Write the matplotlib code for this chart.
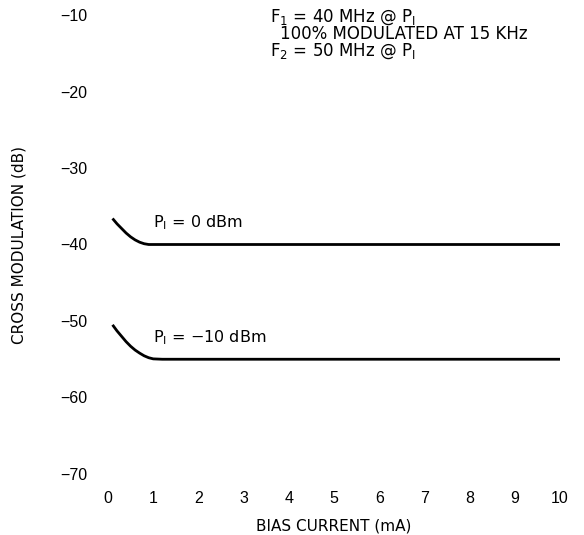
import matplotlib.pyplot as plt

plt.rcParams['font.family'] = ['DejaVu Sans']
plt.rcParams['mathtext.fontset'] = 'custom'
plt.rcParams['mathtext.rm'] = 'DejaVu Sans'

# valores
bias_ma = [0.1, 0.2, 0.3, 0.4, 0.5, 0.6, 0.7, 0.8, 0.9, 1.0, 1.2, 1.4, 2.0, 4.0, 6.0, 8.0, 10.0]
xmod_0dbm = [-36.6, -37.3, -37.9, -38.5, -39.0, -39.4, -39.7, -39.9, -40.0, -40.0, -40.0, -40.0,
             -40.0, -40.0, -40.0, -40.0, -40.0]
xmod_m10dbm = [-50.5, -51.3, -52.0, -52.7, -53.3, -53.8, -54.2, -54.55, -54.8, -54.95, -55.0, -55.0,
               -55.0, -55.0, -55.0, -55.0, -55.0]

x_ticks = [0, 1, 2, 3, 4, 5, 6, 7, 8, 9, 10]
y_ticks = [-70, -60, -50, -40, -30, -20, -10]

fig = plt.figure(figsize=(5.84, 5.35), dpi=100)
ax = fig.add_axes([108 / 584, 1 - 474 / 535, (560 - 108) / 584, (474 - 15) / 535])

ax.plot(bias_ma, xmod_0dbm, color='black', lw=2.0, solid_capstyle='butt')
ax.plot(bias_ma, xmod_m10dbm, color='black', lw=2.0, solid_capstyle='butt')

ax.set_xlim(0, 10)
ax.set_ylim(-70, -10)
ax.set_xticks(x_ticks)
ax.set_yticks(y_ticks)
ax.tick_params(length=0, labelsize=11.5, colors='black')
ax.tick_params(axis='x', pad=12)
ax.tick_params(axis='y', pad=15)
for lab in ax.get_xticklabels() + ax.get_yticklabels():
    lab.set_family('Liberation Sans')
for s in ax.spines.values():
    s.set_visible(False)

ax.set_xlabel('BIAS CURRENT (mA)', fontsize=11, labelpad=9)
ax.set_ylabel('CROSS MODULATION (dB)', fontsize=11, labelpad=24)

# anotaciones
ax.text(3.58, -10.3, r'F$\mathregular{_1}$ = 40 MHz @ P$\mathregular{_I}$', fontsize=12, va='center')
ax.text(3.8, -12.5, '100% MODULATED AT 15 KHz', fontsize=12, va='center')
ax.text(3.58, -14.8, r'F$\mathregular{_2}$ = 50 MHz @ P$\mathregular{_I}$', fontsize=12, va='center')

ax.text(1.0, -37.1, r'P$\mathregular{_I}$ = 0 dBm', fontsize=11.5, va='center')
ax.text(1.0, -52.2, r'P$\mathregular{_I}$ = $-$10 dBm', fontsize=11.5, va='center')

fig.savefig('out.png', dpi=100)
